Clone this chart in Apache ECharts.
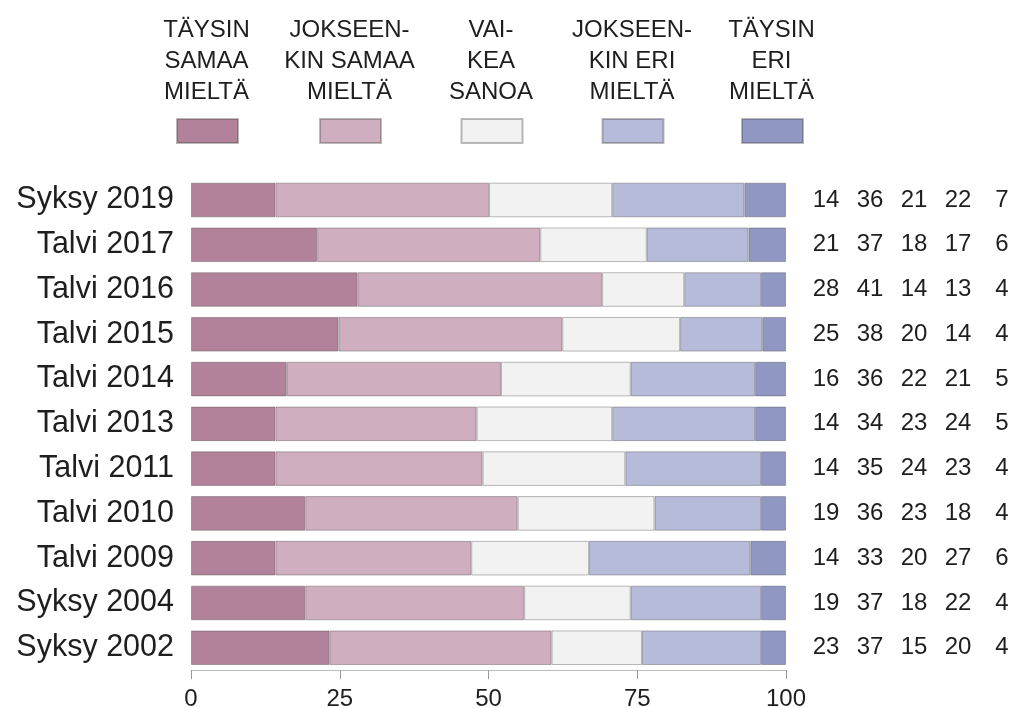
<!DOCTYPE html>
<html>
<head>
<meta charset="utf-8">
<script src="https://cdn.jsdelivr.net/npm/echarts@6/dist/echarts.min.js"></script>
<style>html,body{margin:0;padding:0;background:#fff;}#c{width:1013px;height:708px;}</style>
</head>
<body>
<div id="c"></div>
<script>
const categories = ['Syksy 2019','Talvi 2017','Talvi 2016','Talvi 2015','Talvi 2014','Talvi 2013','Talvi 2011','Talvi 2010','Talvi 2009','Syksy 2004','Syksy 2002'];
const seriesNames = ['TÄYSIN\nSAMAA\nMIELTÄ','JOKSEEN-\nKIN SAMAA\nMIELTÄ','VAI-\nKEA\nSANOA','JOKSEEN-\nKIN ERI\nMIELTÄ','TÄYSIN\nERI\nMIELTÄ'];
// bar lengths (percent)
const taysinSamaa     = [14.2, 21.2, 28.0, 24.8, 16.1, 14.2, 14.2, 19.2, 14.2, 19.2, 23.3];
const jokseenkinSamaa = [35.9, 37.5, 41.1, 37.6, 36.0, 33.8, 34.8, 35.7, 32.9, 36.8, 37.3];
const vaikeaSanoa     = [20.7, 17.9, 13.8, 19.8, 21.8, 22.8, 24.0, 23.0, 19.8, 17.9, 15.2];
const jokseenkinEri   = [22.2, 17.1, 12.9, 13.8, 20.9, 24.0, 22.8, 17.9, 27.1, 21.9, 20.0];
const taysinEri       = [7.0, 6.3, 4.2, 4.0, 5.2, 5.2, 4.2, 4.2, 6.0, 4.2, 4.2];
// printed figures at the right
const labTaysinSamaa     = [14, 21, 28, 25, 16, 14, 14, 19, 14, 19, 23];
const labJokseenkinSamaa = [36, 37, 41, 38, 36, 34, 35, 36, 33, 37, 37];
const labVaikeaSanoa     = [21, 18, 14, 20, 22, 23, 24, 23, 20, 18, 15];
const labJokseenkinEri   = [22, 17, 13, 14, 21, 24, 23, 18, 27, 22, 20];
const labTaysinEri       = [7, 6, 4, 4, 5, 5, 4, 4, 6, 4, 4];
const xTicks = [0, 25, 50, 75, 100];

const colors = ['#b2829b','#cfaebf','#f2f2f2','#b6bbd9','#9097c3'];
const values = [taysinSamaa, jokseenkinSamaa, vaikeaSanoa, jokseenkinEri, taysinEri];
const labels = [labTaysinSamaa, labJokseenkinSamaa, labVaikeaSanoa, labJokseenkinEri, labTaysinEri];
const FONT = 'Liberation Sans, Arial, Helvetica, sans-serif';

const gridLeft = 191, gridRight = 1013 - 786, gridTop = 177.6, gridBottom = 708 - 670.1;
const legendCenters = [206.5, 349.5, 491, 632, 771.5];
const numberCenters = [826, 870, 914, 958, 1002];

const chart = echarts.init(document.getElementById('c'), null, {renderer: 'canvas'});

const series = values.map((v, i) => ({
  name: seriesNames[i],
  type: 'bar',
  stack: 'all',
  yAxisIndex: 0,
  barCategoryGap: '22.7%',
  data: v,
  itemStyle: {color: colors[i], borderColor: 'rgba(60,60,60,0.35)', borderWidth: 1},
  emphasis: {disabled: true},
  animation: false
}));

const rightAxes = labels.map((arr, i) => ({
  type: 'category',
  position: 'right',
  inverse: true,
  data: arr.map(String),
  axisLine: {show: false},
  axisTick: {show: false},
  axisLabel: {
    margin: numberCenters[i] - (1013 - gridRight),
    align: 'center',
    fontSize: 24,
    fontFamily: FONT,
    color: '#1e1e1e'
  }
}));

const legends = seriesNames.map((n, i) => ({
  data: [n],
  left: legendCenters[i] - 30.5,
  top: 118,
  padding: 0,
  itemWidth: 61,
  itemHeight: 24,
  icon: 'rect',
  formatter: () => '',
  selectedMode: false,
  textStyle: {fontSize: 1}
}));

const headers = seriesNames.map((n, i) => ({
  type: 'text',
  x: legendCenters[i],
  y: 15,
  style: {
    text: n,
    font: '24px ' + FONT,
    fill: '#1e1e1e',
    align: 'center',
    verticalAlign: 'top',
    lineHeight: 31
  }
}));

chart.setOption({
  backgroundColor: '#fff',
  animation: false,
  grid: {left: gridLeft, right: gridRight, top: gridTop, bottom: gridBottom, containLabel: false, outerBoundsMode: 'none'},
  legend: legends,
  graphic: headers,
  xAxis: {
    type: 'value',
    min: 0, max: 100, interval: 25,
    splitLine: {show: false},
    axisLine: {show: true, lineStyle: {color: '#bbb', width: 1}},
    axisTick: {show: true, length: 9, lineStyle: {color: '#999'}},
    axisLabel: {
      fontSize: 24, fontFamily: FONT, color: '#1e1e1e', margin: 17,
      formatter: v => xTicks.includes(v) ? String(v) : ''
    }
  },
  yAxis: [{
    type: 'category',
    inverse: true,
    data: categories,
    axisLine: {show: false},
    axisTick: {show: false},
    axisLabel: {fontSize: 30.5, fontFamily: FONT, color: '#1e1e1e', margin: 17}
  }].concat(rightAxes),
  series: series
});
</script>
</body>
</html>
